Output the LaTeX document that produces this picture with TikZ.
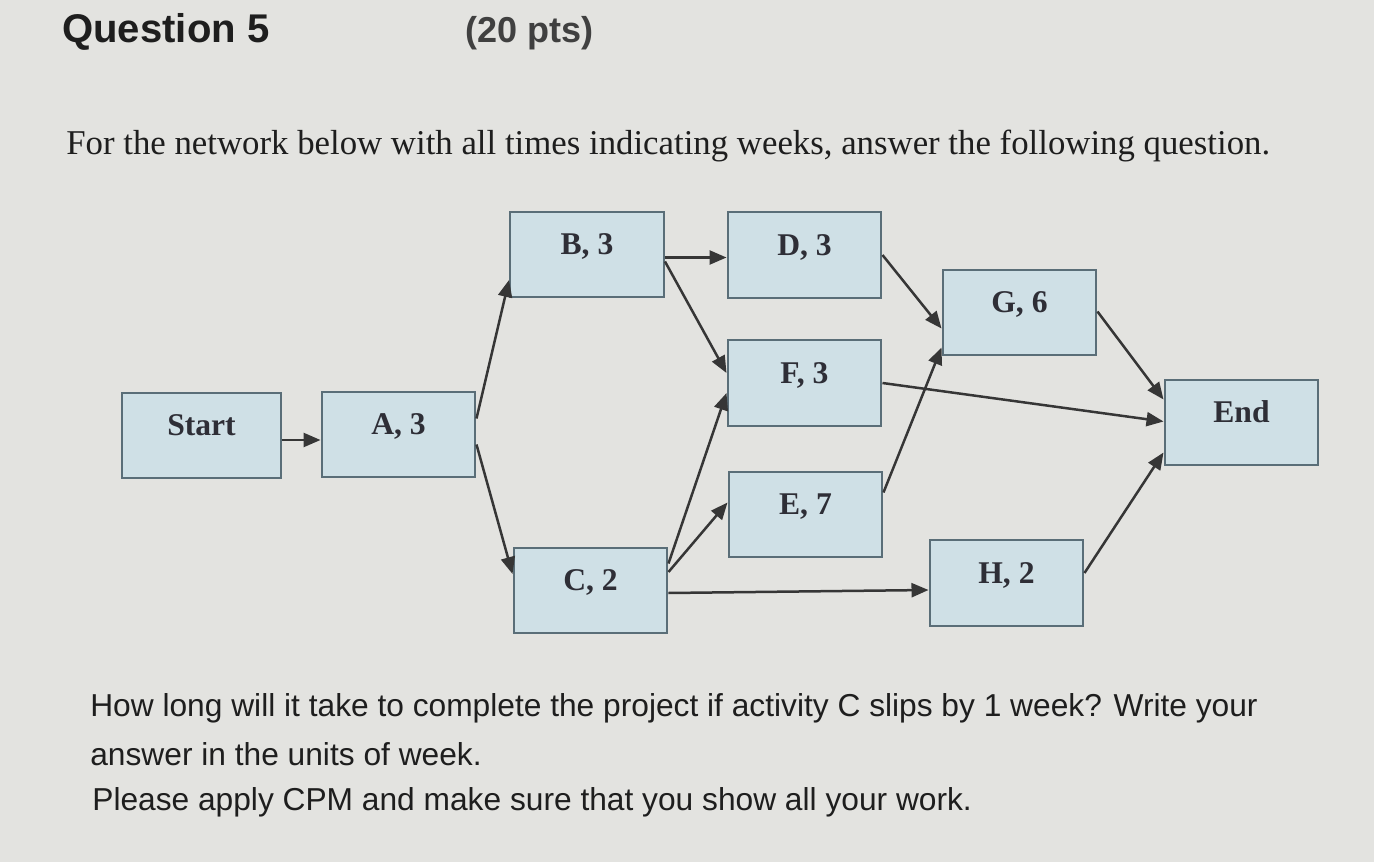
\documentclass[tikz,border=0pt]{standalone}
\usepackage{fontspec}
\setmainfont{Liberation Serif}
\newfontfamily\arialfont{Liberation Sans}
\usetikzlibrary{arrows.meta,calc}
\definecolor{bg}{HTML}{E3E3E0}
\definecolor{boxfill}{HTML}{CFE0E6}
\definecolor{boxline}{HTML}{5A6E78}
\definecolor{ink}{HTML}{2E2E36}
\definecolor{arrowc}{HTML}{363636}
\definecolor{headink}{HTML}{1E1E1E}
\tikzset{
  actbox/.style={draw=boxline, fill=boxfill, line width=0.04cm,
    minimum width=3.08cm, minimum height=1.72cm, inner sep=0pt,
    text height=0.45cm, text depth=0.45cm,
    font=\bfseries\fontsize{18pt}{20pt}\selectfont, text=ink},
  arr/.style={draw=arrowc, line width=0.05cm, -{Triangle[length=0.34cm,width=0.28cm]}},
  txt/.style={inner sep=0pt, anchor=base west, text=headink},
}
\begin{document}
\begin{tikzpicture}[x=0.02cm, y=-0.02cm]
\useasboundingbox (0,0) rectangle (1374,862);
\fill[bg] (0,0) rectangle (1374,862);

% heading and texts
\node[txt, font=\arialfont\bfseries\fontsize{22.8pt}{26pt}\selectfont] (q) at (62,42) {Question 5};
\node[txt, font=\arialfont\bfseries\fontsize{20.5pt}{24pt}\selectfont, text=headink!85] (pts) at (465,42) {(20 pts)};
\node[txt, text=headink] (intro) at (66,154) {\resizebox{24.08cm}{!}{\fontsize{20pt}{24pt}\selectfont For the network below with all times indicating weeks, answer the following question.}};
\node[txt, font=\arialfont\fontsize{18.05pt}{22pt}\selectfont] (l1) at (90,716) {How long will it take to complete the project if activity C slips by 1 week? Write your};
\node[txt, font=\arialfont\fontsize{18.05pt}{22pt}\selectfont] (l2) at (90,765) {answer in the units of week.};
\node[txt, font=\arialfont\fontsize{18.05pt}{22pt}\selectfont] (l3) at (92,810) {Please apply CPM and make sure that you show all your work.};

% activity boxes
\node[actbox, minimum width=3.18cm] (S) at (201.5,435.5) {Start};
\node[actbox] (A) at (398.5,434.5) {A, 3};
\node[actbox] (B) at (587,254.5) {B, 3};
\node[actbox] (D) at (804.5,255) {D, 3};
\node[actbox] (G) at (1019.5,312.5) {G, 6};
\node[actbox] (F) at (804.5,383) {F, 3};
\node[actbox] (E) at (805.5,514.5) {E, 7};
\node[actbox] (C) at (590.5,590.5) {C, 2};
\node[actbox] (H) at (1006.5,583) {H, 2};
\node[actbox] (End) at (1241.5,422.5) {End};

% connectors
\draw[arr] ([shift={(0,4.5)}]S.east) -- ([shift={(0,5.5)}]A.west);
\draw[arr] ([shift={(0,-16)}]A.east) -- ([shift={(0,25.5)}]B.west);
\draw[arr] ([shift={(0,10)}]A.east) -- ([shift={(0,-16.5)}]C.west);
\draw[arr] ([shift={(0,3)}]B.east) -- ([shift={(0,2.5)}]D.west);
\draw[arr] ([shift={(0,7)}]B.east) -- ([shift={(0,-10)}]F.west);
\draw[arr] ([shift={(0,-27)}]C.east) -- ([shift={(0,10)}]F.west);
\draw[arr] ([shift={(0,-18.5)}]C.east) -- ([shift={(0,-12)}]E.west);
\draw[arr] ([shift={(0,2.5)}]C.east) -- ([shift={(0,7)}]H.west);
\draw[arr] ([shift={(0,0)}]D.east) -- ([shift={(0,16)}]G.west);
\draw[arr] ([shift={(0,-22)}]E.east) -- ([shift={(0,35)}]G.west);
\draw[arr] ([shift={(0,0)}]F.east) -- ([shift={(0,-1)}]End.west);
\draw[arr] ([shift={(0,-1)}]G.east) -- ([shift={(0,-23)}]End.west);
\draw[arr] ([shift={(0,-10)}]H.east) -- ([shift={(0,30)}]End.west);
\end{tikzpicture}
\end{document}
